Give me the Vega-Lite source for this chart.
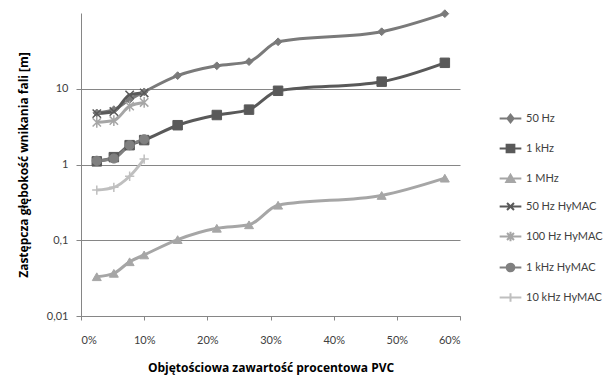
{
  "$schema": "https://vega.github.io/schema/vega-lite/v6.json",
  "width": 379,
  "height": 303,
  "autosize": {"type": "none"},
  "padding": {"left": 81, "top": 13, "right": 148, "bottom": 60},
  "background": "white",
  "config": {
    "font": "Lato",
    "view": {"stroke": null},
    "axis": {
      "labelFont": "Lato",
      "labelFontSize": 11,
      "labelColor": "#404040",
      "titleFont": "Open Sans",
      "titleFontSize": 12,
      "titleFontWeight": "bold",
      "titleColor": "#000000",
      "domainColor": "#868686",
      "tickColor": "#868686",
      "gridColor": "#868686",
      "gridOpacity": 1,
      "gridWidth": 1
    },
    "legend": {
      "labelFont": "Lato",
      "labelFontSize": 11,
      "labelColor": "#404040"
    }
  },
  "data": {
    "values": [
      {"series": "50 Hz", "pvc": 0.025, "depth": 4.8},
      {"series": "50 Hz", "pvc": 0.052, "depth": 5.3},
      {"series": "50 Hz", "pvc": 0.077, "depth": 7.2},
      {"series": "50 Hz", "pvc": 0.1, "depth": 9.1},
      {"series": "50 Hz", "pvc": 0.153, "depth": 14.9},
      {"series": "50 Hz", "pvc": 0.215, "depth": 20.1},
      {"series": "50 Hz", "pvc": 0.266, "depth": 22.8},
      {"series": "50 Hz", "pvc": 0.312, "depth": 41.7},
      {"series": "50 Hz", "pvc": 0.476, "depth": 56.6},
      {"series": "50 Hz", "pvc": 0.576, "depth": 98},
      {"series": "1 kHz", "pvc": 0.025, "depth": 1.1},
      {"series": "1 kHz", "pvc": 0.052, "depth": 1.25},
      {"series": "1 kHz", "pvc": 0.077, "depth": 1.8},
      {"series": "1 kHz", "pvc": 0.1, "depth": 2.1},
      {"series": "1 kHz", "pvc": 0.153, "depth": 3.3},
      {"series": "1 kHz", "pvc": 0.215, "depth": 4.5},
      {"series": "1 kHz", "pvc": 0.266, "depth": 5.3},
      {"series": "1 kHz", "pvc": 0.312, "depth": 9.4},
      {"series": "1 kHz", "pvc": 0.476, "depth": 12.4},
      {"series": "1 kHz", "pvc": 0.576, "depth": 22},
      {"series": "1 MHz", "pvc": 0.025, "depth": 0.033},
      {"series": "1 MHz", "pvc": 0.052, "depth": 0.0366},
      {"series": "1 MHz", "pvc": 0.077, "depth": 0.052},
      {"series": "1 MHz", "pvc": 0.1, "depth": 0.064},
      {"series": "1 MHz", "pvc": 0.153, "depth": 0.102},
      {"series": "1 MHz", "pvc": 0.215, "depth": 0.144},
      {"series": "1 MHz", "pvc": 0.266, "depth": 0.16},
      {"series": "1 MHz", "pvc": 0.312, "depth": 0.29},
      {"series": "1 MHz", "pvc": 0.476, "depth": 0.39},
      {"series": "1 MHz", "pvc": 0.576, "depth": 0.66},
      {"series": "50 Hz HyMAC", "pvc": 0.025, "depth": 4.7},
      {"series": "50 Hz HyMAC", "pvc": 0.052, "depth": 5.0},
      {"series": "50 Hz HyMAC", "pvc": 0.077, "depth": 8.3},
      {"series": "50 Hz HyMAC", "pvc": 0.1, "depth": 8.8},
      {"series": "100 Hz HyMAC", "pvc": 0.025, "depth": 3.6},
      {"series": "100 Hz HyMAC", "pvc": 0.052, "depth": 3.8},
      {"series": "100 Hz HyMAC", "pvc": 0.077, "depth": 5.9},
      {"series": "100 Hz HyMAC", "pvc": 0.1, "depth": 6.6},
      {"series": "1 kHz HyMAC", "pvc": 0.025, "depth": 1.12},
      {"series": "1 kHz HyMAC", "pvc": 0.052, "depth": 1.2},
      {"series": "1 kHz HyMAC", "pvc": 0.077, "depth": 1.8},
      {"series": "1 kHz HyMAC", "pvc": 0.1, "depth": 2.15},
      {"series": "10 kHz HyMAC", "pvc": 0.025, "depth": 0.46},
      {"series": "10 kHz HyMAC", "pvc": 0.052, "depth": 0.5},
      {"series": "10 kHz HyMAC", "pvc": 0.077, "depth": 0.7},
      {"series": "10 kHz HyMAC", "pvc": 0.1, "depth": 1.18}
    ]
  },
  "encoding": {
    "x": {
      "field": "pvc",
      "type": "quantitative",
      "scale": {"domain": [0, 0.6], "nice": false, "zero": false},
      "axis": {
        "values": [0, 0.1, 0.2, 0.3, 0.4, 0.5, 0.6],
        "format": ".0%",
        "grid": false,
        "tickSize": 4,
        "labelPadding": 14,
        "titlePadding": 17,
        "title": "Objętościowa zawartość procentowa PVC"
      }
    },
    "y": {
      "field": "depth",
      "type": "quantitative",
      "scale": {"type": "log", "domain": [0.01, 100], "nice": false},
      "axis": {
        "values": [0.01, 0.1, 1, 10],
        "labelExpr": "datum.value < 0.05 ? '0,01' : datum.value < 0.5 ? '0,1' : datum.value < 5 ? '1' : '10'",
        "grid": true,
        "tickSize": 5,
        "labelPadding": 8,
        "titlePadding": 16,
        "title": "Zastępcza głębokość wnikania fali [m]"
      }
    }
  },
  "layer": [
    {
      "mark": {"type": "line", "interpolate": "monotone", "strokeWidth": 3},
      "encoding": {
        "stroke": {
          "field": "series",
          "type": "nominal",
          "scale": {
            "domain": ["50 Hz", "1 kHz", "1 MHz", "50 Hz HyMAC", "100 Hz HyMAC", "1 kHz HyMAC", "10 kHz HyMAC"],
            "range": ["#7a7a7a", "#595959", "#a6a6a6", "#595959", "#a6a6a6", "#808080", "#bfbfbf"]
          },
          "legend": {
            "title": null,
            "orient": "none",
            "legendX": 424,
            "legendY": 100,
            "rowPadding": 13,
            "symbolStrokeWidth": 2,
            "symbolSize": 60,
            "labelOffset": 10,
            "encode": {
              "symbols": {
                "update": {
                  "shape": {
                    "signal": "datum.value === '50 Hz' ? 'M-2.8,0L2.8,0M0,-1L0.8,0L0,1L-0.8,0Z' : datum.value === '1 kHz' ? 'M-2.8,0L2.8,0M-1,-1L1,-1L1,1L-1,1Z' : datum.value === '1 MHz' ? 'M-2.8,0L2.8,0M0,-1L1.1,0.9L-1.1,0.9Z' : datum.value === '50 Hz HyMAC' ? 'M-2.8,0L2.8,0M-0.9,-0.9L0.9,0.9M-0.9,0.9L0.9,-0.9' : datum.value === '100 Hz HyMAC' ? 'M-2.8,0L2.8,0M-0.9,-0.9L0.9,0.9M-0.9,0.9L0.9,-0.9M0,-1.2L0,1.2' : datum.value === '1 kHz HyMAC' ? 'M-2.8,0L2.8,0M1,0A1,1,0,1,1,-1,0A1,1,0,1,1,1,0Z' : 'M-2.8,0L2.8,0M0,-1.1L0,1.1'"
                  },
                  "fill": {"signal": "scale('stroke', datum.value)"}
                }
              }
            }
          }
        }
      }
    },
    {
      "transform": [{"filter": "datum.series === '50 Hz'"}],
      "mark": {"type": "point", "shape": "diamond", "filled": true, "opacity": 1, "size": 60, "color": "#7a7a7a", "stroke": "#7a7a7a", "strokeWidth": 1}
    },
    {
      "transform": [{"filter": "datum.series === '1 kHz'"}],
      "mark": {"type": "point", "shape": "square", "filled": true, "opacity": 1, "size": 90, "color": "#595959", "stroke": "#595959", "strokeWidth": 1}
    },
    {
      "transform": [{"filter": "datum.series === '1 MHz'"}],
      "mark": {"type": "point", "shape": "triangle-up", "filled": true, "opacity": 1, "size": 80, "color": "#a6a6a6", "stroke": "#a6a6a6", "strokeWidth": 1}
    },
    {
      "transform": [{"filter": "datum.series === '50 Hz HyMAC'"}],
      "mark": {"type": "point", "shape": "M-1,-1L1,1M-1,1L1,-1", "filled": false, "opacity": 1, "size": 70, "color": "#595959", "strokeWidth": 1.5}
    },
    {
      "transform": [{"filter": "datum.series === '100 Hz HyMAC'"}],
      "mark": {"type": "point", "shape": "M-1,-1L1,1M-1,1L1,-1M0,-1.3L0,1.3", "filled": false, "opacity": 1, "size": 70, "color": "#a6a6a6", "strokeWidth": 1.5}
    },
    {
      "transform": [{"filter": "datum.series === '1 kHz HyMAC'"}],
      "mark": {"type": "point", "shape": "circle", "filled": true, "opacity": 1, "size": 85, "color": "#808080", "stroke": "#808080", "strokeWidth": 1}
    },
    {
      "transform": [{"filter": "datum.series === '10 kHz HyMAC'"}],
      "mark": {"type": "point", "shape": "M-1.2,0L1.2,0M0,-1.2L0,1.2", "filled": false, "opacity": 1, "size": 60, "color": "#bfbfbf", "strokeWidth": 1.5}
    }
  ]
}
